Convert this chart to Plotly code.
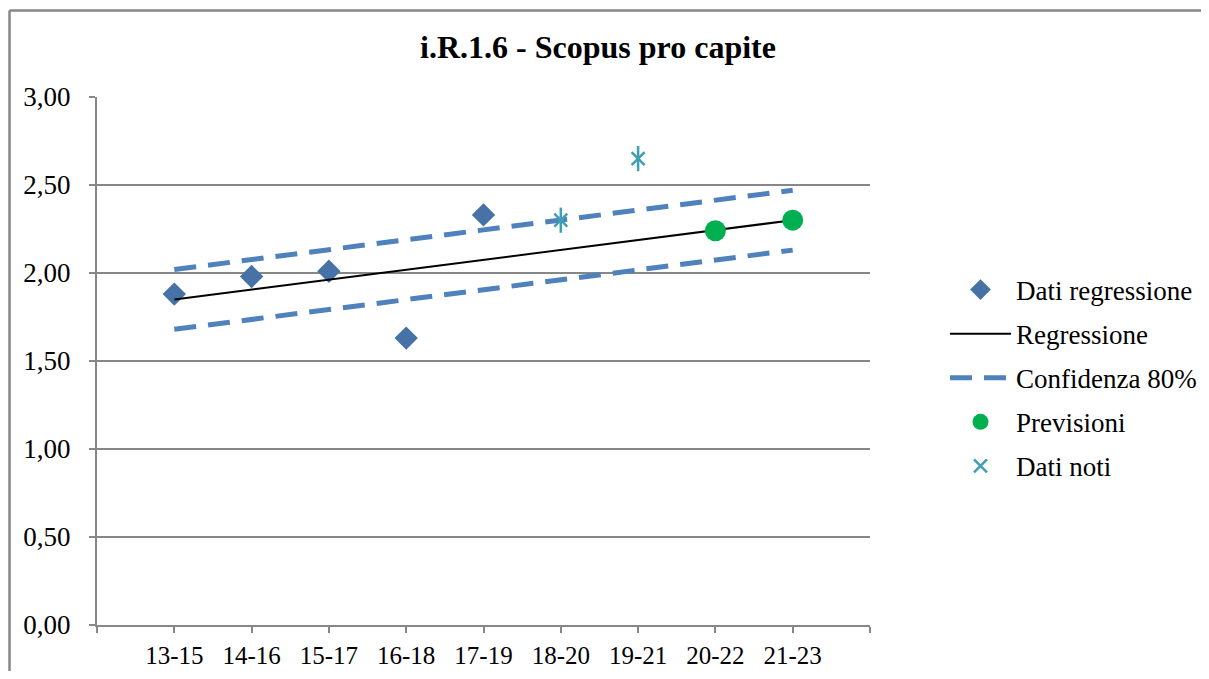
import plotly.graph_objects as go

categories = ["13-15", "14-16", "15-17", "16-18", "17-19", "18-20", "19-21", "20-22", "21-23"]

reg_cats = ["13-15", "14-16", "15-17", "16-18", "17-19"]
reg_vals = [1.88, 1.98, 2.01, 1.63, 2.33]

line_cats = ["13-15", "21-23"]
line_vals = [1.85, 2.30]
upper_vals = [2.02, 2.47]
lower_vals = [1.68, 2.13]

prev_cats = ["20-22", "21-23"]
prev_vals = [2.24, 2.30]

noti_cats = ["18-20", "19-21"]
noti_vals = [2.30, 2.65]

y_ticks = [0, 0.5, 1.0, 1.5, 2.0, 2.5, 3.0]

# page geometry (the page body has an 8px margin)
OFF = 8
PAGE_W, PAGE_H = 1209, 679
W, H = PAGE_W - 2 * OFF, PAGE_H - 2 * OFF
# plot area in page pixels
L, R, T, B = 97, 870, 97, 625


def pos(cats):
    return [categories.index(c) for c in cats]


FONT = "Liberation Serif, Times New Roman, serif"
GRAY = "#878787"
DIAMOND = "#4672a8"
BAND = "#4f81bd"
GREEN = "#00b050"
TEAL = "#3f9fb5"

fig = go.Figure()

fig.add_trace(go.Scatter(
    x=pos(reg_cats), y=reg_vals, mode="markers", name="Dati regressione",
    marker=dict(symbol="diamond", size=18, color=DIAMOND),
    legendgroup="a",
))
fig.add_trace(go.Scatter(
    x=pos(line_cats), y=line_vals, mode="lines", name="Regressione",
    line=dict(color="black", width=2), legendgroup="b",
))
fig.add_trace(go.Scatter(
    x=pos(line_cats), y=upper_vals, mode="lines", name="Confidenza 80%",
    line=dict(color=BAND, width=5, dash="22px,12px"), legendgroup="c",
))
fig.add_trace(go.Scatter(
    x=pos(line_cats), y=lower_vals, mode="lines", name="Confidenza 80%",
    line=dict(color=BAND, width=5, dash="22px,12px"), legendgroup="c",
    showlegend=False,
))
fig.add_trace(go.Scatter(
    x=pos(prev_cats), y=prev_vals, mode="markers", name="Previsioni",
    marker=dict(symbol="circle", size=21, color=GREEN), legendgroup="d",
))
fig.add_trace(go.Scatter(
    x=pos(noti_cats), y=noti_vals, mode="markers", name="Dati noti",
    marker=dict(symbol="x-thin-open", size=13, color=TEAL, line=dict(width=2.5, color=TEAL)),
    legendgroup="e",
))
fig.add_trace(go.Scatter(
    x=pos(noti_cats), y=noti_vals, mode="markers", name="Dati noti",
    marker=dict(symbol="line-ns-open", size=18, color=TEAL, line=dict(width=2.5, color=TEAL)),
    legendgroup="e", showlegend=False,
))

pw = R - L
ph = B - T


def px_x(p):
    return (p - L) / pw


def px_y(p):
    return (B - p) / ph


def cx(p):
    return (p - OFF) / W


def cy(p):
    return 1 - (p - OFF) / H


fig.update_layout(
    width=W, height=H,
    margin=dict(l=L - OFF, r=OFF + W - R, t=T - OFF, b=OFF + H - B, pad=0),
    paper_bgcolor="white", plot_bgcolor="white",
    separators=",.",
    font=dict(family=FONT, size=27, color="black"),
    title=dict(
        text="<b>i.R.1.6 - Scopus pro capite</b>",
        x=cx(598), xref="container", xanchor="center",
        y=cy(47), yref="container", yanchor="middle",
        font=dict(family=FONT, size=32, color="black"),
    ),
    showlegend=True,
    legend=dict(
        x=cx(945), xref="container", xanchor="left",
        y=cy(378), yref="container", yanchor="middle",
        traceorder="grouped", tracegroupgap=6,
        font=dict(family=FONT, size=27, color="black"),
        bgcolor="rgba(0,0,0,0)", itemwidth=61,
    ),
    xaxis=dict(
        range=[-1, len(categories)],
        tickmode="array",
        tickvals=list(range(-1, len(categories) + 1)),
        ticktext=[""] + categories + [""],
        showgrid=False, zeroline=False, automargin=False,
        showline=True, linecolor=GRAY, linewidth=2,
        ticks="outside", ticklen=6, tickcolor=GRAY, tickwidth=2,
        tickfont=dict(family=FONT, size=25, color="black"),
        ticklabelstandoff=1,
    ),
    yaxis=dict(
        range=[0, 3],
        tickmode="array", tickvals=y_ticks, tickformat=".2f",
        showgrid=True, gridcolor=GRAY, gridwidth=2,
        zeroline=False, automargin=False,
        showline=True, linecolor=GRAY, linewidth=2,
        ticks="outside", ticklen=6, tickcolor=GRAY, tickwidth=2,
        tickfont=dict(family=FONT, size=27, color="black"),
        ticklabelstandoff=13,
    ),
)

# outer chart frame (left and top borders)
fig.add_shape(type="line", xref="paper", yref="paper",
              x0=px_x(9.5), x1=px_x(PAGE_W + 20), y0=px_y(10.5), y1=px_y(10.5),
              line=dict(color=GRAY, width=2.5))
fig.add_shape(type="line", xref="paper", yref="paper",
              x0=px_x(9.5), x1=px_x(9.5), y0=px_y(10.5), y1=px_y(PAGE_H + 20),
              line=dict(color=GRAY, width=2.5))

fig.write_html("out.html")
